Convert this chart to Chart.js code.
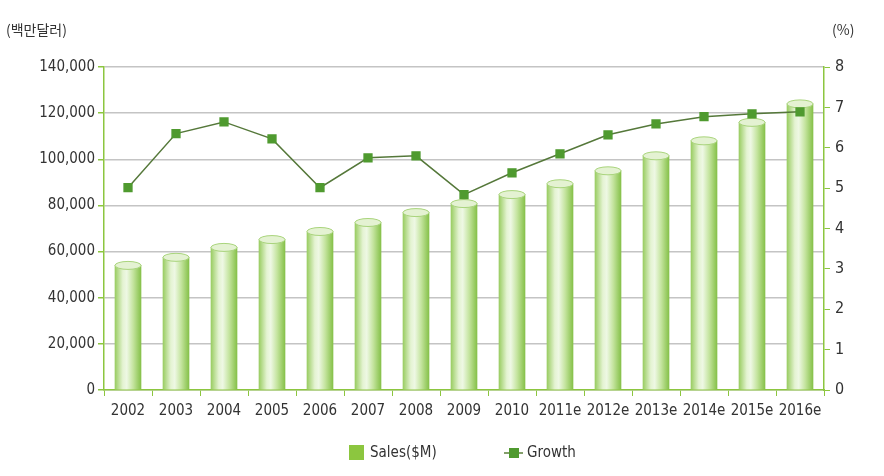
<!DOCTYPE html>
<html>
<head>
<meta charset="utf-8">
<script src="https://cdn.jsdelivr.net/npm/chart.js@4"></script>
<style>
  html, body { margin: 0; padding: 0; background: #fff; }
  #wrap { width: 884px; height: 476px; position: relative; }
</style>
</head>
<body>
<div id="wrap"><canvas id="myChart"></canvas></div>
<script>
const years = ['2002', '2003', '2004', '2005', '2006', '2007', '2008', '2009', '2010',
  '2011e', '2012e', '2013e', '2014e', '2015e', '2016e'];
const sales = [54000, 57500, 61800, 65200, 68700, 72600, 76900, 80800, 84700,
  89400, 95000, 101500, 108000, 116000, 124000];
const growth = [5.01, 6.35, 6.64, 6.22, 5.01, 5.75, 5.80, 4.84, 5.38,
  5.85, 6.32, 6.59, 6.77, 6.84, 6.89];
const leftTitle = '(백만달러)';
const rightTitle = '(%)';

(() => {
  const ctx = document.getElementById('myChart');
  const tickFont = { family: '"Liberation Sans Narrow", "DejaVu Sans Condensed", "Liberation Sans", sans-serif', size: 15 };
  const axisGreen = '#8cc63f';

  // horizontal gradient per bar so it looks like a cylinder
  const barFill = (c) => {
    const chart = c.chart;
    const x = chart.scales.x ? chart.scales.x.getPixelForValue(c.dataIndex) : null;
    if (x == null || isNaN(x)) return '#b5dc8a';
    const g = chart.ctx.createLinearGradient(x - 13, 0, x + 13, 0);
    g.addColorStop(0, '#9acd63');
    g.addColorStop(0.3, '#e4f3d2');
    g.addColorStop(0.45, '#eef8e4');
    g.addColorStop(0.7, '#c4e49e');
    g.addColorStop(1, '#86c14a');
    return g;
  };

  const caps = {
    id: 'caps',
    afterDatasetDraw(chart, args) {
      if (args.index !== 0) return;
      const c = chart.ctx;
      args.meta.data.forEach(bar => {
        c.save();
        c.beginPath();
        c.ellipse(bar.x, bar.y, bar.width / 2, 4, 0, 0, Math.PI * 2);
        c.fillStyle = '#e4f2d2';
        c.fill();
        c.strokeStyle = '#a9d47c';
        c.lineWidth = 1;
        c.stroke();
        c.restore();
      });
    }
  };

  const extras = {
    id: 'extras',
    afterDraw(chart) {
      const c = chart.ctx;
      c.save();
      c.fillStyle = '#333';
      c.font = '14px "Noto Sans CJK KR", sans-serif';
      c.textBaseline = 'middle';
      c.textAlign = 'left';
      c.fillText(leftTitle, 6, 30);
      c.fillText(rightTitle, 832, 30);

      // legend
      c.font = '15px ' + tickFont.family;
      c.fillStyle = '#8cc63f';
      c.fillRect(349, 445, 15, 15);
      c.fillStyle = '#333';
      c.fillText('Sales($M)', 370, 453);
      c.strokeStyle = '#5b7f3a';
      c.lineWidth = 1.5;
      c.beginPath();
      c.moveTo(504, 453);
      c.lineTo(523, 453);
      c.stroke();
      c.fillStyle = '#4f9a2f';
      c.fillRect(509, 448, 10, 10);
      c.fillStyle = '#333';
      c.fillText('Growth', 527, 453);
      c.restore();
    }
  };

  new Chart(ctx, {
    data: {
      labels: years,
      datasets: [
        {
          type: 'bar',
          label: 'Sales($M)',
          data: sales,
          yAxisID: 'y',
          backgroundColor: barFill,
          barThickness: 26,
          order: 1
        },
        {
          type: 'line',
          label: 'Growth',
          data: growth,
          yAxisID: 'y1',
          borderColor: '#55783a',
          borderWidth: 1.5,
          pointStyle: 'rect',
          pointRadius: 5.5,
          pointBackgroundColor: '#4f9a2f',
          pointBorderColor: '#4f9a2f',
          tension: 0,
          order: 0
        }
      ]
    },
    options: {
      responsive: true,
      maintainAspectRatio: false,
      animation: false,
      layout: { padding: { top: 67, bottom: 56, left: 0, right: 0 } },
      plugins: {
        legend: { display: false },
        tooltip: { enabled: false }
      },
      scales: {
        x: {
          offset: true,
          grid: {
            offset: true,
            drawOnChartArea: false,
            color: axisGreen,
            tickLength: 6
          },
          border: { color: axisGreen, width: 1.5 },
          ticks: { font: tickFont, color: '#333', padding: 6, maxRotation: 0, autoSkip: false },
          afterFit(s) { s.height = 30; }
        },
        y: {
          position: 'left',
          min: 0,
          max: 140000,
          ticks: {
            stepSize: 20000,
            font: tickFont,
            color: '#333',
            padding: 3,
            callback: v => v.toLocaleString('en-US')
          },
          grid: { color: '#c4c4c4', lineWidth: 1.5, tickColor: axisGreen, tickLength: 6 },
          border: { color: axisGreen, width: 1.5 },
          afterFit(s) { s.width = 104; }
        },
        y1: {
          position: 'right',
          min: 0,
          max: 8,
          ticks: { stepSize: 1, font: { family: tickFont.family, size: 16 }, color: '#333', padding: 5 },
          grid: { drawOnChartArea: false, color: axisGreen, tickLength: 6 },
          border: { color: axisGreen, width: 1.5 },
          afterFit(s) { s.width = 60; }
        }
      }
    },
    plugins: [caps, extras]
  });
})();
</script>
</body>
</html>
